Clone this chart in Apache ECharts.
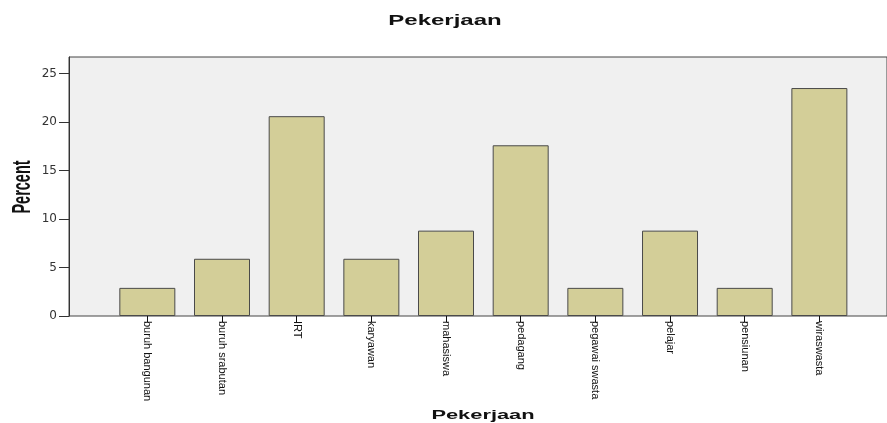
<!DOCTYPE html>
<html>
<head>
<meta charset="utf-8">
<script src="https://cdn.jsdelivr.net/npm/echarts@6/dist/echarts.min.js"></script>
<style>
html,body{margin:0;padding:0;background:#fff;}
#chart{width:887px;height:423px;}
</style>
</head>
<body>
<div id="chart"></div>
<script>
var categories = ['buruh bangunan','buruh srabutan','IRT','karyawan','mahasiswa','pedagang','pegawai swasta','pelajar','pensiunan','wiraswasta'];
var percentValues = [2.9, 5.9, 20.6, 5.9, 8.8, 17.6, 2.9, 8.8, 2.9, 23.5];
var yTicks = [0, 5, 10, 15, 20, 25];
var titleText = 'Pekerjaan';
var xName = 'Pekerjaan';
var yName = 'Percent';

var chart = echarts.init(document.getElementById('chart'), null, {renderer:'canvas'});
var yMax = 26.7;
var option = {
  animation: false,
  backgroundColor: '#ffffff',
  grid: [
    {left: 69, right: -2, top: 57, bottom: 107, show: true, backgroundColor: '#f0f0f0', borderColor: '#444444', borderWidth: 1},
    {left: 110, right: 30.3, top: 57, bottom: 107}
  ],
  xAxis: [
    {gridIndex: 0, type: 'value', min: 0, max: 1, show: false},
    {gridIndex: 1, type: 'category', data: categories,
     axisLine: {show: false},
     axisTick: {show: true, alignWithLabel: true, length: 6, lineStyle: {color: '#111', width: 1}},
     axisLabel: {rotate: -90, margin: 5, fontSize: 11, color: '#111',
                 fontFamily: '"Liberation Sans",Arial,sans-serif', interval: 0}}
  ],
  yAxis: [
    {gridIndex: 0, type: 'value', min: 0, max: yMax, interval: 5,
     axisLine: {show: true, lineStyle: {color: '#333', width: 1}},
     axisTick: {show: true, length: 10, customValues: yTicks, lineStyle: {color: '#333'}},
     splitLine: {show: false},
     axisLabel: {margin: 12, fontSize: 12, color: '#333', fontFamily: '"DejaVu Sans",sans-serif',
                 customValues: yTicks}},
    {gridIndex: 1, type: 'value', min: 0, max: yMax, show: false}
  ],
  series: [{
    type: 'bar', xAxisIndex: 1, yAxisIndex: 1,
    data: percentValues, barWidth: 56,
    itemStyle: {color: '#d3ce98', borderColor: '#4a4a4a', borderWidth: 1}
  }],
  graphic: [
    {type: 'text', x: 445, y: 21, scaleX: 1.6, style: {text: titleText, fontSize: 15, fontWeight: 'bold', fontFamily: '"Liberation Sans",Arial,sans-serif', fill: '#111', align: 'center', verticalAlign: 'middle'}},
    {type: 'text', x: 483, y: 416, scaleX: 1.82, style: {text: xName, fontSize: 12, fontWeight: 'bold', fontFamily: '"Liberation Sans",Arial,sans-serif', fill: '#111', align: 'center', verticalAlign: 'middle'}},
    {type: 'text', x: 23, y: 187, rotation: Math.PI/2, scaleX: 0.58, style: {text: yName, fontSize: 25, fontWeight: 'bold', fontFamily: '"Liberation Sans",Arial,sans-serif', fill: '#111', align: 'center', verticalAlign: 'middle'}}
  ]
};
chart.setOption(option);
</script>
</body>
</html>
